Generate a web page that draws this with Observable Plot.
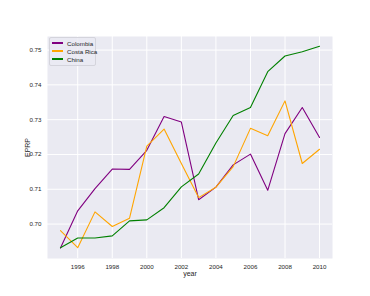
<!DOCTYPE html>
<html>
<head>
<meta charset="utf-8">
<script src="https://cdn.jsdelivr.net/npm/d3@7"></script>
<script src="https://cdn.jsdelivr.net/npm/@observablehq/plot@0.6"></script>
<style>
  html, body { margin: 0; padding: 0; background: #fff; }
  #wrap { position: relative; width: 370px; height: 296px; font-family: "Liberation Sans", Arial, sans-serif; }
  #legend { position: absolute; left: 49px; top: 37px; width: 47px; padding: 1px 0 2px 0; box-sizing: border-box;
    background: rgba(234,234,242,0.8); border: 1px solid #d4d4dc; border-radius: 2px; font-size: 6.2px; color: #262626; white-space: nowrap; }
  .row { display: flex; align-items: center; height: 8px; }
  .sw { display: inline-block; width: 11px; height: 1.2px; margin: 0 4px 0 2px; flex: none; }
</style>
</head>
<body>
<div id="wrap"><div id="legend"></div></div>
<script>
const years = [1995,1996,1997,1998,1999,2000,2001,2002,2003,2004,2005,2006,2007,2008,2009,2010];
const colombia  = [0.6931,0.7038,0.7102,0.7158,0.7157,0.7212,0.7309,0.7293,0.7070,0.7106,0.7170,0.7201,0.7097,0.7260,0.7335,0.7249];
const costaRica = [0.6981,0.6932,0.7035,0.6993,0.7017,0.7224,0.7273,0.7174,0.7076,0.7106,0.7165,0.7275,0.7254,0.7354,0.7174,0.7215];
const china     = [0.6932,0.6960,0.6960,0.6966,0.7009,0.7012,0.7047,0.7107,0.7144,0.7233,0.7312,0.7335,0.7438,0.7483,0.7495,0.7511];
const seriesNames = ["Colombia", "Costa Rica", "China"];
const seriesColors = ["purple", "orange", "green"];
const xTicks = [1996,1998,2000,2002,2004,2006,2008,2010];
const yTicks = [0.70,0.71,0.72,0.73,0.74,0.75];

const allSeries = [colombia, costaRica, china];
const data = [];
allSeries.forEach((vals, i) => vals.forEach((v, j) => data.push({year: years[j], value: v, country: seriesNames[i]})));

const chart = Plot.plot({
  width: 370,
  height: 296,
  marginLeft: 47,
  marginRight: 38,
  marginTop: 36,
  marginBottom: 38,
  style: { fontFamily: "'Liberation Sans', Arial, sans-serif", fontSize: "6.2px", color: "#262626", background: "white" },
  x: { domain: [1994.25, 2010.75] },
  y: { domain: [0.6901, 0.7539] },
  color: { domain: seriesNames, range: seriesColors },
  marks: [
    Plot.frame({ fill: "#eaeaf2", stroke: null }),
    Plot.gridX(xTicks, { stroke: "white", strokeOpacity: 1, strokeWidth: 1 }),
    Plot.gridY(yTicks, { stroke: "white", strokeOpacity: 1, strokeWidth: 1 }),
    Plot.axisX(xTicks, { tickSize: 0, tickPadding: 6, tickFormat: d => String(d), label: null }),
    Plot.axisX({ ticks: [], tickSize: 0, label: "year", labelAnchor: "center", labelArrow: "none", labelOffset: 17, fontSize: 7 }),
    Plot.axisY(yTicks, { tickSize: 0, tickPadding: 6, tickFormat: d => d.toFixed(2), label: null }),
    Plot.axisY({ ticks: [], tickSize: 0, label: "EPRP", labelAnchor: "center", labelArrow: "none", labelOffset: 22, fontSize: 7 }),
    Plot.line(data, { x: "year", y: "value", z: "country", stroke: "country", strokeWidth: 1.1 })
  ]
});
const wrap = document.getElementById("wrap");
wrap.insertBefore(chart, wrap.firstChild);

const legend = document.getElementById("legend");
seriesNames.forEach((name, i) => {
  const row = document.createElement("div");
  row.className = "row";
  const sw = document.createElement("span");
  sw.className = "sw";
  sw.style.background = seriesColors[i];
  const t = document.createElement("span");
  t.textContent = name;
  row.appendChild(sw); row.appendChild(t);
  legend.appendChild(row);
});
</script>
</body>
</html>
